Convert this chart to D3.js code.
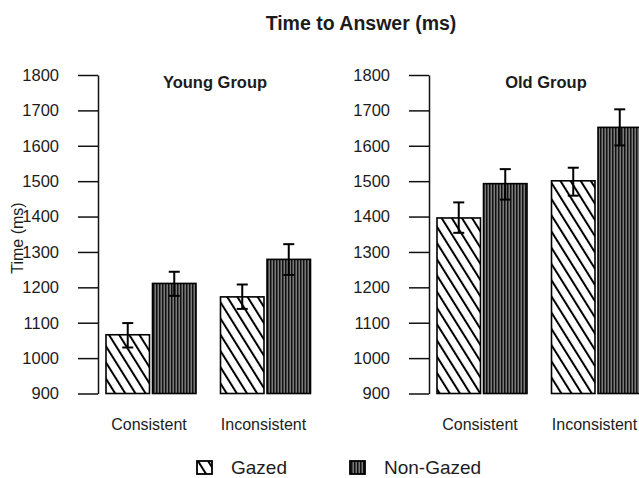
<!DOCTYPE html>
<html>
<head>
<meta charset="utf-8">
<script src="https://cdn.jsdelivr.net/npm/d3@7"></script>
<style>
  html, body { margin: 0; padding: 0; background: #fff; }
  svg { display: block; font-family: "Liberation Sans", Arial, sans-serif; }
</style>
</head>
<body>
<svg id="chart" width="639" height="478"></svg>
<script>
// Mean response times (ms) with error-bar bounds
const groups = ["Young Group", "Old Group"];
const conditions = ["Consistent", "Inconsistent"];
const gazeTypes = ["Gazed", "Non-Gazed"];
const yTicks = [900, 1000, 1100, 1200, 1300, 1400, 1500, 1600, 1700, 1800];

// [Consistent, Inconsistent] per gaze type
const youngGazed = [1066, 1173];
const youngNonGazed = [1211, 1279];
const oldGazed = [1396, 1501];
const oldNonGazed = [1493, 1652];

const youngGazedLow = [1030, 1139];
const youngGazedHigh = [1099, 1208];
const youngNonGazedLow = [1176, 1235];
const youngNonGazedHigh = [1244, 1322];
const oldGazedLow = [1354, 1459];
const oldGazedHigh = [1440, 1538];
const oldNonGazedLow = [1448, 1601];
const oldNonGazedHigh = [1534, 1703];

const panelData = [
  { name: groups[0], axisX: 98,
    values: [youngGazed, youngNonGazed],
    low: [youngGazedLow, youngNonGazedLow],
    high: [youngGazedHigh, youngNonGazedHigh] },
  { name: groups[1], axisX: 429,
    values: [oldGazed, oldNonGazed],
    low: [oldGazedLow, oldNonGazedLow],
    high: [oldGazedHigh, oldNonGazedHigh] }
];

const svg = d3.select("#chart");
const textColor = "#1c1c1c";

// Fill patterns: diagonal hatch for gazed, dense vertical stripes for non-gazed
const defs = svg.append("defs");
const hatch = defs.append("pattern")
  .attr("id", "hatchGazed")
  .attr("patternUnits", "userSpaceOnUse")
  .attr("width", 8.6).attr("height", 20)
  .attr("patternTransform", "rotate(-32)");
hatch.append("rect").attr("width", 8.6).attr("height", 20).attr("fill", "#fff");
hatch.append("line")
  .attr("x1", 1).attr("y1", 0).attr("x2", 1).attr("y2", 20)
  .attr("stroke", "#000").attr("stroke-width", 2);

const stripes = defs.append("pattern")
  .attr("id", "stripesNonGazed")
  .attr("patternUnits", "userSpaceOnUse")
  .attr("width", 3).attr("height", 10);
stripes.append("rect").attr("width", 3).attr("height", 10).attr("fill", "#7a7a7a");
stripes.append("rect").attr("x", 0).attr("width", 1.5).attr("height", 10).attr("fill", "#111");

const fills = ["url(#hatchGazed)", "url(#stripesNonGazed)"];

const y = d3.scaleLinear().domain([900, 1800]).range([393.5, 75]);

// Title
svg.append("text")
  .attr("x", 361).attr("y", 30)
  .attr("text-anchor", "middle")
  .attr("font-size", 19.5).attr("font-weight", "bold")
  .attr("fill", textColor)
  .text("Time to Answer (ms)");

panelData.forEach(p => {
  const g = svg.append("g");

  // y axis
  const axis = d3.axisLeft(y).tickValues(yTicks).tickFormat(d3.format("d"))
    .tickSize(20).tickPadding(19).tickSizeOuter(0);
  const ax = g.append("g")
    .attr("transform", `translate(${p.axisX},0)`)
    .call(axis);
  ax.select(".domain").attr("stroke", "#111").attr("stroke-width", 1.5);
  ax.selectAll(".tick line").attr("stroke", "#111").attr("stroke-width", 1.5);
  ax.selectAll(".tick text")
    .attr("font-size", 16.5).attr("fill", textColor)
    .attr("font-family", "'Liberation Sans', Arial, sans-serif");

  const x0 = d3.scaleBand().domain(conditions)
    .range([p.axisX + 8, p.axisX + 212.5])
    .paddingInner(0.214).paddingOuter(0);
  const x1 = d3.scaleBand().domain(gazeTypes)
    .range([0, x0.bandwidth()])
    .paddingInner(0.065).paddingOuter(0);

  const rows = [];
  gazeTypes.forEach((gt, gi) => {
    conditions.forEach((c, ci) => {
      rows.push({ gt, gi, c, v: p.values[gi][ci], lo: p.low[gi][ci], hi: p.high[gi][ci] });
    });
  });

  g.selectAll("rect.bar").data(rows).join("rect")
    .attr("class", "bar")
    .attr("x", d => x0(d.c) + x1(d.gt))
    .attr("y", d => y(d.v))
    .attr("width", x1.bandwidth())
    .attr("height", d => y(900) - y(d.v))
    .attr("fill", d => fills[d.gi])
    .attr("stroke", "#000").attr("stroke-width", 1.6);

  // error bars
  const cap = 5.5;
  const cx = d => x0(d.c) + x1(d.gt) + x1.bandwidth() / 2;
  const eb = g.selectAll("g.err").data(rows).join("g").attr("class", "err")
    .attr("stroke", "#000").attr("stroke-width", 2);
  eb.append("line")
    .attr("x1", cx).attr("x2", cx)
    .attr("y1", d => y(d.lo)).attr("y2", d => y(d.hi));
  eb.append("line")
    .attr("x1", d => cx(d) - cap).attr("x2", d => cx(d) + cap)
    .attr("y1", d => y(d.hi)).attr("y2", d => y(d.hi));
  eb.append("line")
    .attr("x1", d => cx(d) - cap).attr("x2", d => cx(d) + cap)
    .attr("y1", d => y(d.lo)).attr("y2", d => y(d.lo));

  // condition labels
  g.selectAll("text.cond").data(conditions).join("text")
    .attr("class", "cond")
    .attr("x", c => x0(c) + x0.bandwidth() / 2 - 2)
    .attr("y", 430)
    .attr("text-anchor", "middle")
    .attr("font-size", 16).attr("fill", textColor)
    .text(c => c);

  // panel title
  g.append("text")
    .attr("x", p.axisX + 117).attr("y", 88)
    .attr("text-anchor", "middle")
    .attr("font-size", 16.5).attr("font-weight", "bold")
    .attr("fill", textColor)
    .text(p.name);
});

// y axis title
svg.append("text")
  .attr("transform", "translate(23,238) rotate(-90)")
  .attr("text-anchor", "middle")
  .attr("font-size", 16).attr("fill", textColor)
  .text("Time (ms)");

// legend
const legendX = [197, 350];
const legend = svg.append("g");
gazeTypes.forEach((gt, i) => {
  legend.append("rect")
    .attr("x", legendX[i]).attr("y", 461)
    .attr("width", 15).attr("height", 13)
    .attr("fill", fills[i])
    .attr("stroke", "#000").attr("stroke-width", 1.8);
  legend.append("text")
    .attr("x", legendX[i] + 34).attr("y", 474)
    .attr("font-size", 19).attr("fill", textColor)
    .text(gt);
});
</script>
</body>
</html>
